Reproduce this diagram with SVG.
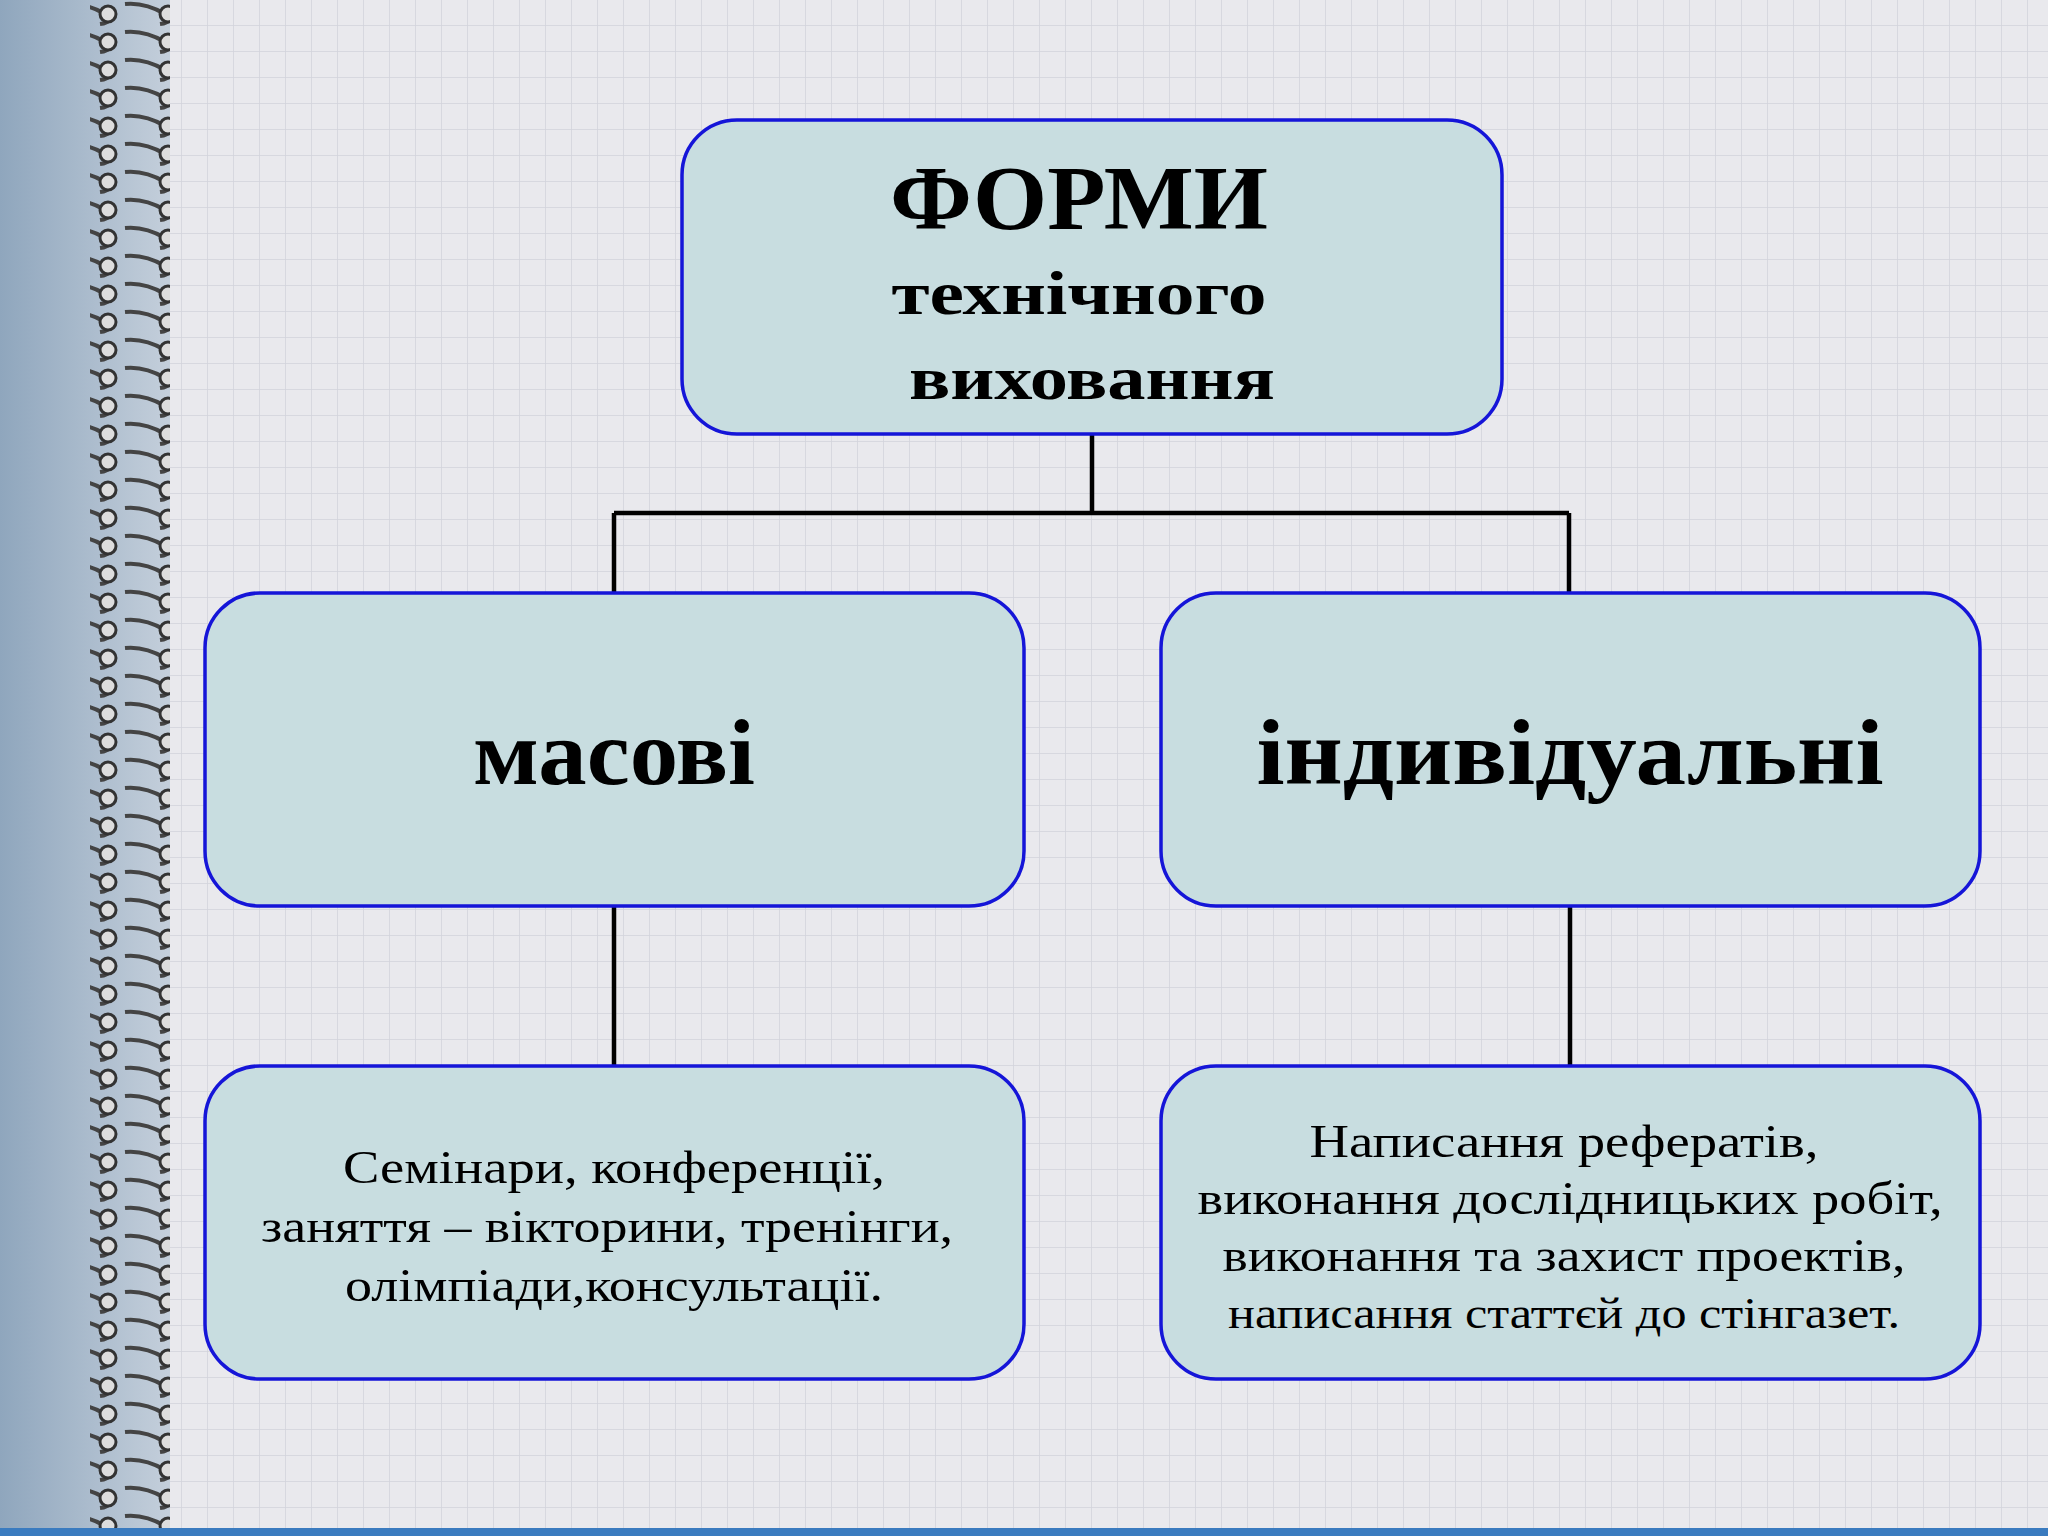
<svg xmlns="http://www.w3.org/2000/svg" width="2048" height="1536" viewBox="0 0 2048 1536">
<defs>
<pattern id="grid" width="26" height="26" patternUnits="userSpaceOnUse">
<rect width="26" height="26" fill="#e9e9ed"/>
<path d="M26 0V26M0 26H26" stroke="#d2d3db" stroke-width="1.5" fill="none"/>
</pattern>
<linearGradient id="side" x1="0" x2="1">
<stop offset="0" stop-color="#8fa6bd"/><stop offset="1" stop-color="#c4cfdb"/>
</linearGradient>
<pattern id="ring" width="60" height="28" patternUnits="userSpaceOnUse">
<path d="M100 4 Q120 2 140 14 Q150 22 135 24" transform="translate(-95 0)" stroke="#444" stroke-width="4" fill="none"/>
<circle cx="48" cy="14" r="8" fill="#ddd" stroke="#333" stroke-width="3"/>
</pattern>
<style>
.box{fill:#c8dde0;stroke:#1515d8;stroke-width:3.5}
.t{font-family:"Liberation Serif","DejaVu Serif",serif;text-anchor:middle;fill:#000}
.b{font-weight:bold}
.c{stroke:#000;stroke-width:4.5;fill:none}
</style>
</defs>
<rect width="2048" height="1536" fill="url(#grid)"/>
<rect width="170" height="1536" fill="url(#side)"/>
<rect x="90" width="80" height="1536" fill="url(#ring)"/>
<rect y="1528" width="2048" height="8" fill="#3a7bbf"/>
<g id="connectors">
<path class="c" d="M1092 434V513M614 513H1569M614 513V593M1569 513V593M614 906V1066M1570 906V1066"/>
</g>
<g id="root"><rect class="box" x="682" y="120" width="820" height="314" rx="55"/>
<text class="t b" x="1079" y="229" font-size="90" textLength="378" lengthAdjust="spacingAndGlyphs">ФОРМИ</text>
<text class="t b" x="1079" y="314" font-size="62" textLength="375" lengthAdjust="spacingAndGlyphs">технічного</text>
<text class="t b" x="1092" y="399" font-size="62" textLength="366" lengthAdjust="spacingAndGlyphs">виховання</text></g>
<g id="mass"><rect class="box" x="205" y="593" width="819" height="313" rx="55"/>
<text class="t b" x="614" y="784" font-size="94" textLength="282" lengthAdjust="spacingAndGlyphs">масові</text></g>
<g id="indiv"><rect class="box" x="1161" y="593" width="819" height="313" rx="55"/>
<text class="t b" x="1570" y="784" font-size="94" textLength="627" lengthAdjust="spacingAndGlyphs">індивідуальні</text></g>
<g id="massList"><rect class="box" x="205" y="1066" width="819" height="313" rx="55"/>
<text class="t" x="614" y="1183" font-size="47" textLength="542" lengthAdjust="spacingAndGlyphs">Семінари, конференції,</text>
<text class="t" x="607" y="1242" font-size="47" textLength="692" lengthAdjust="spacingAndGlyphs">заняття – вікторини, тренінги,</text>
<text class="t" x="614" y="1301" font-size="47" textLength="538" lengthAdjust="spacingAndGlyphs">олімпіади,консультації.</text></g>
<g id="indivList"><rect class="box" x="1161" y="1066" width="819" height="313" rx="55"/>
<text class="t" x="1564" y="1157" font-size="46" textLength="509" lengthAdjust="spacingAndGlyphs">Написання рефератів,</text>
<text class="t" x="1570" y="1214" font-size="46" textLength="745" lengthAdjust="spacingAndGlyphs">виконання дослідницьких робіт,</text>
<text class="t" x="1564" y="1271" font-size="46" textLength="683" lengthAdjust="spacingAndGlyphs">виконання та захист проектів,</text>
<text class="t" x="1564" y="1328" font-size="44" textLength="672" lengthAdjust="spacingAndGlyphs">написання статтєй до стінгазет.</text></g>
</svg>
